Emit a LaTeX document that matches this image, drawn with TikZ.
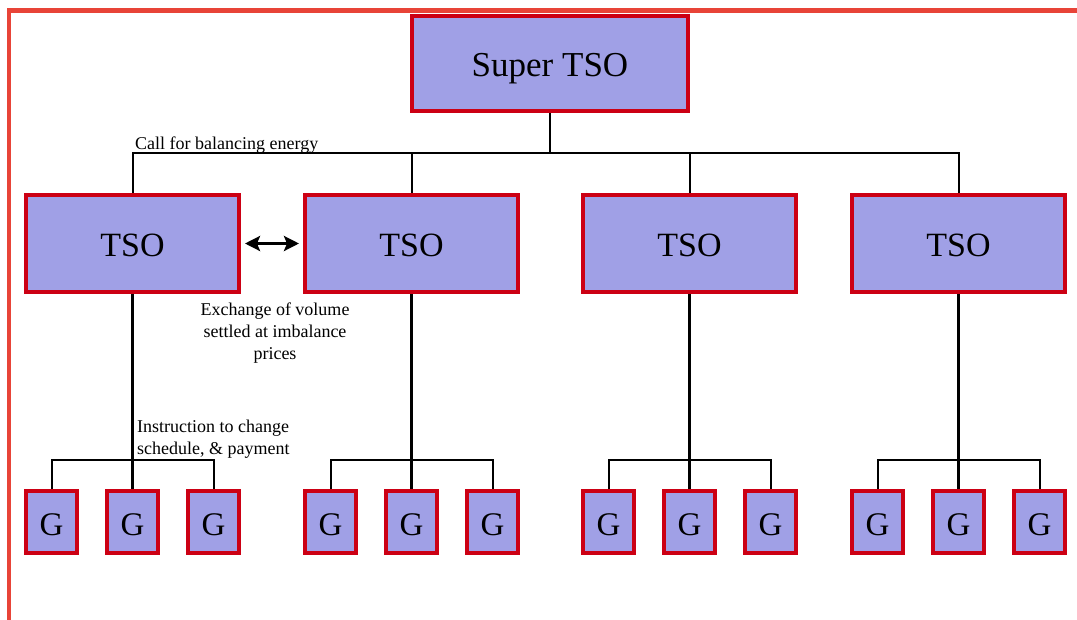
\documentclass[tikz,border=0pt]{standalone}
\usepackage{fontspec}
\setmainfont{Liberation Serif}
\usetikzlibrary{arrows.meta}
\definecolor{boxfill}{RGB}{160,160,230}
\definecolor{boxline}{RGB}{204,0,20}
\definecolor{framered}{RGB}{232,68,56}
\tikzset{
  bigbox/.style={draw=boxline, fill=boxfill, line width=4pt, inner sep=0pt,
    minimum width=213pt, minimum height=97pt, text height=26pt, text depth=0pt,
    font=\fontsize{34}{38}\selectfont},
  gbox/.style={draw=boxline, fill=boxfill, line width=4pt, inner sep=0pt,
    minimum width=51pt, minimum height=62pt, text height=26pt, text depth=0pt,
    font=\fontsize{33}{36}\selectfont},
  lbl/.style={font=\fontsize{18}{22}\selectfont, inner sep=0pt},
  thin/.style={line width=2pt},
  thick3/.style={line width=3pt},
}
\begin{document}
\begin{tikzpicture}[x=1pt,y=-1pt]
\useasboundingbox (0,0) rectangle (1077,619);
\draw[framered, line width=4.5pt] (1085,10.5) -- (9,10.5) -- (9,630);
\node[bigbox, minimum width=276pt, minimum height=95pt, font=\fontsize{35}{38}\selectfont] (super) at (550,63.5) {Super TSO};
\foreach \i/\x in {1/132.5,2/411.5,3/689.5,4/958.5}{
  \node[bigbox] (t\i) at (\x,243.5) {TSO};
}
\foreach \i/\x in {1/51.5,2/132.5,3/213.5,4/330.5,5/411.5,6/492.5,7/608.5,8/689.5,9/770.5,10/877.5,11/958.5,12/1039.5}{
  \node[gbox] (g\i) at (\x,522) {G};
}
% super to TSOs
\draw[thin] (super.south) -- ++(0,40) coordinate (j);
\draw[thin] (t1.north) |- (j) -| (t4.north);
\draw[thin] (t2.north) -- (t2.north |- j);
\draw[thin] (t3.north) -- (t3.north |- j);
% TSO to G
\foreach \t/\a/\b/\c in {1/1/2/3,2/4/5/6,3/7/8/9,4/10/11/12}{
  \draw[thick3] (t\t.south) -- (g\b.north);
  \coordinate (k\t) at ([yshift=29pt]g\b.north);
  \draw[thin] (g\a.north) |- (k\t) -| (g\c.north);
}
% exchange arrow
\draw[thick3, {Stealth[length=15pt,width=15pt,inset=3pt]}-{Stealth[length=15pt,width=15pt,inset=3pt]}, shorten <=4pt, shorten >=4pt] (t1.east) -- (t2.west);
% labels
\node[lbl, anchor=base west] (l1) at (135,149) {Call for balancing energy};
\node[lbl, align=center, anchor=north] (l2) at (275,303) {Exchange of volume\\settled at imbalance\\prices};
\node[lbl, align=left, anchor=north west] (l3) at (137,420) {Instruction to change\\schedule, \& payment};
\end{tikzpicture}
\end{document}
